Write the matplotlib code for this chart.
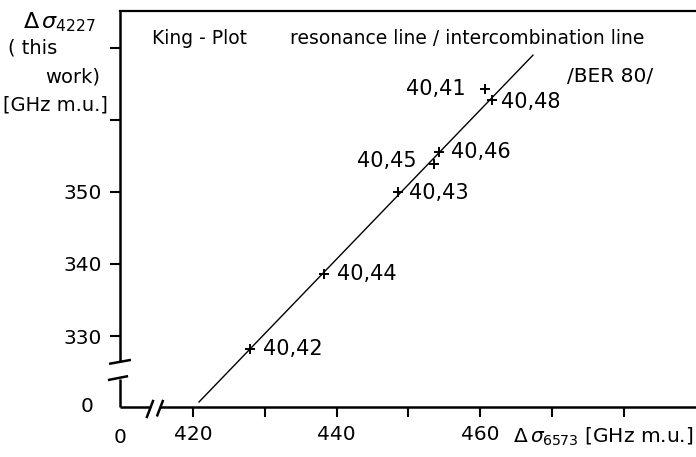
import matplotlib
matplotlib.use("Agg")
import matplotlib.pyplot as plt

# King plot: isotope shifts, resonance line vs intercombination line
pair_labels = ["40,42", "40,44", "40,43", "40,45", "40,46", "40,48", "40,41"]
shift_6573 = [428.0, 438.25, 448.5, 453.5, 454.2, 461.6, 460.7]
shift_4227 = [328.2, 338.6, 350.0, 353.9, 355.5, 362.7, 364.3]
# label offsets in points (dx, dy, ha)
label_pos = [(9, 0, "left"), (9, 0, "left"), (8, -1, "left"), (-12, 2, "right"),
             (9, 0, "left"), (7, -1, "left"), (-14, 0, "right")]

fit_x = [420.84, 467.35]
fit_y = [320.85, 368.97]

xticks = [420, 430, 440, 450, 460, 470, 480]
xticklabels = ["420", "", "440", "", "460", "", ""]
yticks = [330, 340, 350, 360, 370]
yticklabels = ["330", "340", "350", "", ""]

W, H = 696, 457
fig = plt.figure(figsize=(W / 100, H / 100), dpi=100)
ax = fig.add_axes([120 / W, 1 - 407 / H, 576 / W, 396 / H])

xmin, xmax = 409.83, 490.06
ymin, ymax = 320.15, 375.1
ax.set_xlim(xmin, xmax)
ax.set_ylim(ymin, ymax)

ax.plot(fit_x, fit_y, color="black", lw=1.0)
ax.plot(shift_6573, shift_4227, "+", color="black", ms=7, mew=1.4)
for lab, x, y, (dx, dy, ha) in zip(pair_labels, shift_6573, shift_4227, label_pos):
    ax.annotate(lab, (x, y), xytext=(dx, dy), textcoords="offset points",
                ha=ha, va="center", fontsize=15)

ax.text(0.056, 0.93, "King - Plot", transform=ax.transAxes, fontsize=13.5, va="center")
ax.text(0.295, 0.93, "resonance line / intercombination line", transform=ax.transAxes,
        fontsize=13.5, va="center")
ax.text(0.776, 0.835, "/BER 80/", transform=ax.transAxes, fontsize=14.5, va="center")

# spines: top kept, right hidden, left/bottom drawn by hand with breaks
for s in ["right", "left", "bottom"]:
    ax.spines[s].set_visible(False)
ax.spines["top"].set_linewidth(1.6)
kw = dict(transform=ax.transAxes, color="black", lw=1.8, clip_on=False,
          solid_capstyle="butt")
ax.plot([0, 0.052], [0, 0], **kw)
ax.plot([0.069, 1], [0, 0], **kw)
ax.plot([0.046, 0.058], [-0.028, 0.018], **kw)
ax.plot([0.064, 0.075], [-0.024, 0.018], **kw)
ax.plot([0, 0], [0, 0.071], **kw)
ax.plot([0, 0], [0.114, 1], **kw)
ax.plot([-0.019, 0.019], [0.109, 0.119], **kw)
ax.plot([-0.021, 0.014], [0.068, 0.078], **kw)

ax.set_xticks(xticks)
ax.set_xticklabels(xticklabels, fontsize=14.5)
ax.set_yticks(yticks)
ax.set_yticklabels(yticklabels, fontsize=14.5)
ax.tick_params(direction="out", length=7, width=1.5, pad=6)

ax.text(xmin, ymin - 4.2, "0", ha="center", va="center", fontsize=14.5)
ax.text(xmin - 4.6, ymin, "0", ha="center", va="center", fontsize=14.5)

fig.text(513 / W, 1 - 437 / H, r"$\Delta\,\sigma_{6573}$ [GHz m.u.]", fontsize=14.5,
         ha="left", va="center")
fig.text(60 / W, 1 - 22 / H, r"$\Delta\,\sigma_{4227}$", fontsize=16, ha="center", va="center")
fig.text(8 / W, 1 - 48 / H, "( this", fontsize=14, ha="left", va="center")
fig.text(100 / W, 1 - 77 / H, "work)", fontsize=14, ha="right", va="center")
fig.text(3 / W, 1 - 105 / H, "[GHz m.u.]", fontsize=14, ha="left", va="center")

fig.savefig("out.png", dpi=100, facecolor="white")
